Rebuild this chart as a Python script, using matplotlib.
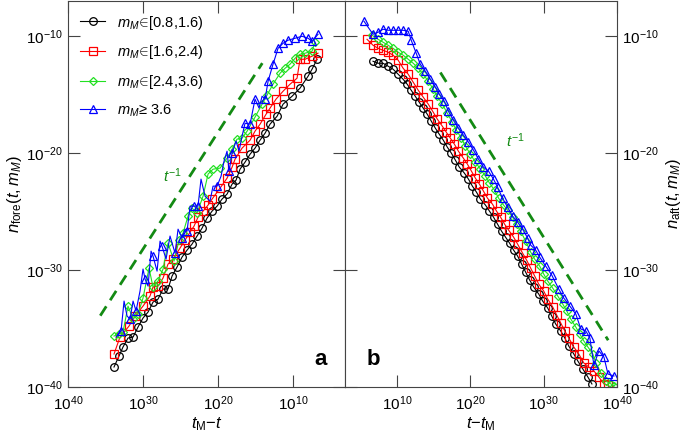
import matplotlib
matplotlib.use('Agg')
import matplotlib.pyplot as plt
import numpy as np
from matplotlib.ticker import NullLocator

plt.rcParams['font.family'] = ['Liberation Sans', 'DejaVu Sans']
plt.rcParams['mathtext.fontset'] = 'custom'
plt.rcParams['mathtext.rm'] = 'Liberation Sans'
plt.rcParams['mathtext.it'] = 'Liberation Sans:italic'
plt.rcParams['mathtext.bf'] = 'Liberation Sans:bold'

# all values are log10 exponents
# ---- panel a : n_fore vs t_M - t ----
fore_x_k = [33.87, 33.2, 32.67, 32.0, 31.33, 30.67, 30.0, 29.33, 28.67, 28.0, 27.33, 26.67, 26.13,
            25.47, 24.8, 24.13, 23.47, 22.8, 22.13, 21.47, 20.8, 20.13, 19.47, 18.8, 18.13, 17.6,
            17.07, 16.4, 15.73, 15.07, 14.4, 13.73, 13.07, 12.13, 11.33, 10.13, 9.07, 8.0, 7.47, 6.8]
fore_y_k = [-38.29, -37.35, -36.58, -35.81, -35.73, -34.87, -34.1, -33.59, -32.74, -32.48, -31.62,
            -31.62, -30.51, -29.74, -28.89, -28.29, -27.78, -27.09, -26.41, -25.56, -24.96, -24.53,
            -23.93, -23.5, -22.65, -22.31, -21.37, -20.77, -20.09, -19.57, -18.89, -18.29, -17.52,
            -16.84, -15.81, -15.13, -14.44, -13.42, -12.82, -11.97]

fore_x_r = [33.87, 33.07, 31.87, 31.07, 30.0, 29.07, 28.67, 28.0, 27.33, 26.67, 26.0, 25.07, 24.4,
            23.73, 23.2, 22.67, 22.0, 21.33, 20.8, 19.73, 18.8, 18.13, 17.73, 16.8, 15.73, 15.07,
            14.4, 13.6, 13.07, 12.27, 11.33, 10.4, 9.47, 9.07, 8.4, 7.47, 6.67]
fore_y_r = [-37.18, -35.73, -34.79, -33.93, -33.08, -32.22, -31.45, -31.37, -30.68, -29.49, -29.06,
            -28.12, -27.44, -26.75, -26.24, -25.47, -24.96, -24.44, -23.93, -22.99, -22.14, -21.2,
            -20.51, -19.57, -18.89, -18.12, -17.52, -16.67, -16.15, -15.38, -14.7, -14.1, -13.59,
            -11.97, -11.97, -11.71, -11.45]

fore_x_g = [33.87, 33.2, 32.67, 32.0, 31.33, 30.67, 30.0, 29.2, 28.67, 28.0, 27.33, 26.67, 25.87,
            25.2, 24.67, 24.0, 23.47, 22.8, 22.0, 21.33, 20.67, 19.73, 18.8, 18.13, 17.47, 16.8,
            16.13, 15.07, 14.13, 13.47, 12.67, 11.73, 11.07, 10.4, 9.73, 9.07, 8.4, 7.47, 7.07]
fore_y_g = [-35.64, -35.47, -35.3, -33.08, -34.19, -33.76, -32.39, -29.83, -31.45, -30.94, -29.91,
            -27.69, -29.23, -27.44, -26.84, -25.38, -24.7, -25.13, -23.68, -21.79, -21.37, -21.28,
            -20.43, -19.66, -18.8, -18.72, -18.12, -16.92, -15.81, -15.04, -14.1, -13.16, -12.74,
            -12.39, -11.88, -11.54, -11.45, -11.28, -10.51]

fore_x_b = [33.6, 32.93, 32.53, 32.13, 31.73, 31.33, 30.93, 30.4, 30.0, 29.73, 29.33, 28.93, 28.67,
            28.13, 27.73, 27.47, 26.93, 26.4, 25.73, 25.33, 24.8, 24.4, 24.13, 23.73, 23.2, 22.67,
            22.27, 21.73, 21.07, 20.67, 20.13, 19.6, 19.2, 18.8, 18.53, 18.13, 17.6, 17.2, 16.8,
            16.4, 15.73, 15.07, 14.53, 14.13, 13.73, 13.33, 12.67, 12.0, 11.33, 10.67, 9.73, 8.8,
            8.0, 7.47, 6.67]
fore_y_b = [-35.73, -35.21, -32.65, -33.93, -34.19, -32.65, -33.5, -31.79, -29.91, -30.77, -31.37,
            -28.38, -28.8, -30.09, -27.52, -27.95, -29.06, -27.09, -28.55, -26.5, -27.26, -26.5,
            -26.67, -24.53, -24.53, -24.53, -22.22, -23.68, -24.1, -22.82, -22.82, -21.97, -20.68,
            -19.83, -21.54, -20.0, -18.97, -19.83, -18.55, -17.44, -17.52, -15.38, -16.15, -15.13,
            -15.38, -13.85, -12.39, -11.03, -10.6, -10.34, -10.17, -10.0, -10.17, -10.43, -9.83]
fore_b_marked = [1, 4, 6, 9, 12, 15, 18, 20, 22, 24, 25, 30, 34, 35, 39, 40, 41, 44, 45, 46, 47,
                 48, 49, 50, 51, 52, 53, 54]

# ---- panel b : n_aft vs t - t_M ----
aft_x_k = [6.71, 7.40, 8.08, 8.77, 9.45, 10.14, 10.82, 11.37, 11.92, 12.47, 13.01, 13.56, 14.11,
           14.66, 15.21, 15.75, 16.30, 16.85, 17.40, 17.95, 18.49, 19.18, 19.73, 20.27, 20.82,
           21.37, 22.05, 22.60, 23.15, 23.70, 24.25, 24.79, 25.34, 25.89, 26.44, 26.99, 27.53,
           28.08, 28.63, 29.32, 29.86, 30.55, 31.10, 31.64, 32.33, 32.88, 33.42, 34.11, 34.66,
           35.34, 36.03, 36.58]
aft_y_k = [-12.14, -12.31, -12.31, -12.56, -12.82, -13.25, -13.68, -14.10, -14.62, -15.13, -15.64,
           -16.15, -16.67, -17.26, -17.86, -18.38, -18.89, -19.49, -20.00, -20.60, -21.20, -21.71,
           -22.22, -22.82, -23.33, -23.93, -24.44, -24.96, -25.47, -26.07, -26.67, -27.18, -27.69,
           -28.29, -28.80, -29.49, -30.17, -30.85, -31.45, -32.05, -32.65, -33.25, -33.93, -34.62,
           -35.21, -35.81, -36.50, -37.18, -37.78, -38.46, -39.15, -39.74]

aft_x_r = [5.89, 6.71, 7.40, 8.08, 8.77, 9.45, 10.14, 10.82, 11.51, 12.19, 12.88, 13.56, 14.25,
           14.93, 15.48, 16.16, 16.71, 17.26, 17.81, 18.36, 19.04, 19.59, 20.14, 20.68, 21.23,
           21.78, 22.33, 23.01, 23.56, 24.11, 24.66, 25.21, 25.89, 26.44, 27.12, 27.67, 28.22,
           28.77, 29.32, 30.00, 30.55, 31.23, 31.78, 32.33, 32.88, 33.42, 34.11, 34.79, 35.48,
           36.16, 36.85, 37.53, 38.22, 38.77]
aft_y_r = [-10.26, -10.77, -11.03, -11.20, -11.37, -11.62, -12.05, -12.74, -13.25, -13.93, -14.62,
           -15.21, -15.81, -16.50, -17.09, -17.69, -18.21, -18.72, -19.23, -19.83, -20.43, -20.94,
           -21.54, -22.14, -22.65, -23.25, -23.85, -24.36, -24.96, -25.47, -26.07, -26.58, -27.18,
           -27.78, -28.55, -29.15, -29.83, -30.51, -31.20, -31.79, -32.48, -33.16, -33.85, -34.53,
           -35.21, -35.81, -36.58, -37.18, -37.95, -38.29, -38.63, -39.15, -39.74, -39.83]

aft_x_g = [6.58, 7.40, 8.08, 8.77, 9.45, 10.14, 10.82, 11.51, 12.19, 12.88, 13.56, 14.25, 14.93,
           15.48, 16.16, 16.85, 17.53, 18.08, 18.77, 19.32, 20.00, 20.68, 21.37, 22.05, 22.60,
           23.29, 23.84, 24.52, 25.07, 25.75, 26.30, 26.85, 27.53, 28.22, 28.77, 29.45, 30.00,
           30.55, 31.23, 31.92, 32.60, 33.15, 33.70, 34.38, 34.93, 35.48, 36.03, 36.71, 37.12,
           37.81, 38.49, 39.18, 39.59]
aft_y_g = [-9.91, -10.26, -10.51, -10.77, -11.03, -11.37, -11.62, -11.97, -12.31, -12.74, -13.25,
           -13.85, -14.53, -15.13, -15.81, -16.58, -17.35, -18.03, -18.72, -19.40, -20.09, -20.77,
           -21.37, -21.97, -22.56, -23.16, -23.85, -24.44, -24.87, -25.47, -26.07, -26.67, -27.52,
           -28.46, -29.06, -29.66, -30.34, -30.94, -31.54, -32.22, -32.91, -33.50, -34.19, -34.87,
           -35.47, -36.07, -36.58, -37.18, -37.95, -38.80, -39.49, -39.74, -39.91]

aft_x_b = [5.48, 6.71, 7.40, 8.08, 8.77, 9.45, 10.14, 10.82, 11.51, 11.92, 12.60, 13.15, 13.84,
           14.52, 15.21, 15.75, 16.44, 16.99, 17.67, 18.36, 19.04, 19.73, 20.41, 21.10, 21.78,
           22.47, 23.15, 23.70, 24.38, 25.07, 25.75, 26.44, 27.12, 27.81, 28.22, 28.90, 29.45,
           30.27, 31.10, 32.05, 32.74, 33.56, 34.38, 35.07, 35.75, 36.30, 36.85, 37.53, 38.22,
           38.77, 39.59]
aft_y_b = [-8.72, -9.83, -9.66, -9.40, -9.49, -9.49, -9.49, -9.49, -9.57, -10.34, -11.45, -12.39,
           -12.99, -13.68, -14.36, -14.96, -15.56, -16.41, -17.18, -17.86, -18.46, -19.06, -19.74,
           -20.51, -21.20, -21.54, -22.22, -22.91, -23.85, -24.62, -25.38, -25.90, -26.50, -27.26,
           -27.86, -28.29, -28.89, -29.66, -30.43, -31.62, -32.39, -33.08, -33.76, -35.04, -35.21,
           -35.81, -38.12, -36.92, -37.44, -38.89, -39.06]

labels = ['$m_M\\!\\in\\!$[0.8,1.6)', '$m_M\\!\\in\\!$[1.6,2.4)', '$m_M\\!\\in\\!$[2.4,3.6)',
          '$m_M$≥ 3.6']
colors = ['black', '#ff0000', '#22e022', '#0000ff']
markers = ['o', 's', 'D', '^']
msizes = [5.5, 5.2, 4.2, 5.8]

# t^-1 guide lines: x range (exponents) and prefactor exponent
guide_a_x = [35.7, 14.1]
guide_a_c = 1.8
guide_b_x = [15.9, 38.8]
guide_b_c = 2.8

fig = plt.figure(figsize=(6.85, 4.34), dpi=100)
ax1 = fig.add_axes([0.0993, 0.1083, 0.4044, 0.889])
ax2 = fig.add_axes([0.5036, 0.1083, 0.3971, 0.889])

fore = [(fore_x_k, fore_y_k, None), (fore_x_r, fore_y_r, None),
        (fore_x_g, fore_y_g, None), (fore_x_b, fore_y_b, fore_b_marked)]
aft = [(aft_x_k, aft_y_k), (aft_x_r, aft_y_r), (aft_x_g, aft_y_g), (aft_x_b, aft_y_b)]

for i, (xs, ys, mk) in enumerate(fore):
    ax1.plot(10.0 ** np.array(xs), 10.0 ** np.array(ys), color=colors[i], marker=markers[i],
             mfc='none', ms=msizes[i], mew=0.9, lw=0.8, markevery=mk, label=labels[i])
for i, (xs, ys) in enumerate(aft):
    ax2.plot(10.0 ** np.array(xs), 10.0 ** np.array(ys), color=colors[i], marker=markers[i],
             mfc='none', ms=msizes[i], mew=0.9, lw=0.8)

gx = 10.0 ** np.array(guide_a_x)
ax1.plot(gx, 10.0 ** guide_a_c / gx, '--', color='#138a13', lw=2, dashes=(4, 2.6))
gx = 10.0 ** np.array(guide_b_x)
ax2.plot(gx, 10.0 ** guide_b_c / gx, '--', color='#138a13', lw=2, dashes=(4, 2.6))

ax1.text(10 ** 26.13, 10 ** -21.97, '$t^{-1}$', color='#138a13', fontsize=11, ha='center', va='center')
ax2.text(10 ** 26.16, 10 ** -18.97, '$t^{-1}$', color='#138a13', fontsize=11, ha='center', va='center')

for ax in (ax1, ax2):
    ax.set_xscale('log')
    ax.set_yscale('log')
    ax.set_ylim(1e-40, 1e-7)
    ax.set_yticks([1e-40, 1e-30, 1e-20, 1e-10])
    ax.xaxis.set_minor_locator(NullLocator())
    ax.yaxis.set_minor_locator(NullLocator())
    ax.tick_params(which='both', direction='in', length=8.5, width=0.8, top=True, right=True,
                   labelsize=11, color='#444444')
    ax.tick_params(axis='x', pad=5)
    for s in ax.spines.values():
        s.set_linewidth(0.8)
        s.set_color('#444444')

ax1.set_xlim(1e40, 10 ** 3.07)
ax1.set_xticks([1e40, 1e30, 1e20, 1e10])
ax2.set_xlim(10 ** 2.88, 1e40)
ax2.set_xticks([1e10, 1e20, 1e30, 1e40])
ax2.tick_params(labelleft=False, labelright=True)

ax1.set_xlabel('$t_{\\mathrm{M}}{\u2212}t$', fontsize=12, labelpad=2)
ax2.set_xlabel('$t{\u2212}t_{\\mathrm{M}}$', fontsize=12, labelpad=2)
ax1.set_ylabel('$n_{\\mathrm{fore}}(t,m_M)$', fontsize=12, labelpad=2)
ax2.set_ylabel('$n_{\\mathrm{aft}}(t,m_M)$', fontsize=12, labelpad=4)
ax2.yaxis.set_label_position('right')

ax1.text(0.91, 0.07, 'a', transform=ax1.transAxes, fontsize=16, fontweight='bold',
         ha='center', va='center')
ax2.text(0.103, 0.07, 'b', transform=ax2.transAxes, fontsize=16, fontweight='bold',
         ha='center', va='center')

ax1.legend(loc='upper left', frameon=False, fontsize=10.5, handlelength=1.7,
           handletextpad=0.8, labelspacing=0.8, borderaxespad=0.45)

fig.savefig('out.png', dpi=100)
